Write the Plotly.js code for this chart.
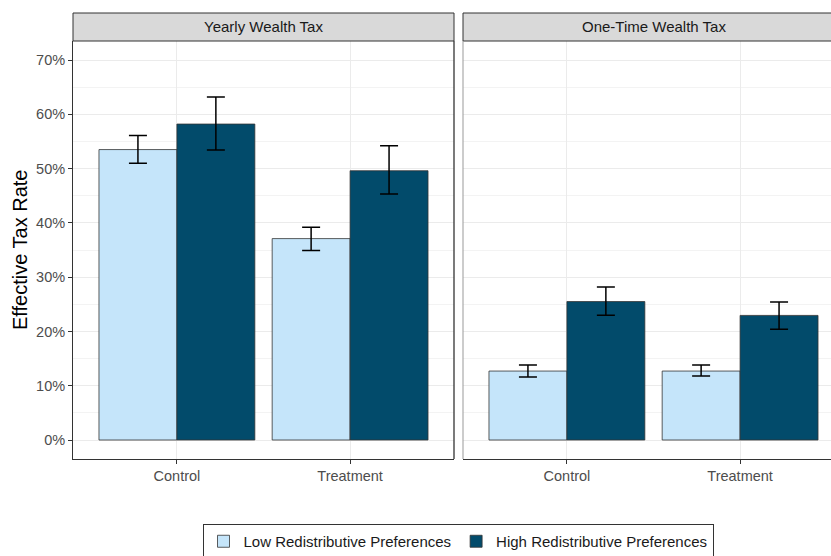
<!DOCTYPE html>
<html><head><meta charset="utf-8">
<script src="https://cdn.plot.ly/plotly-3.0.1.min.js"></script>
<style>html,body{margin:0;padding:0;overflow:hidden;background:#fff;width:831px;height:556px}</style>
</head><body><div id="chart"></div>
<script>
const categories = ["Control", "Treatment"];
const panels = ["Yearly Wealth Tax", "One-Time Wealth Tax"];
const groups = ["Low Redistributive Preferences", "High Redistributive Preferences"];

const yearlyLow = [0.535, 0.371];
const yearlyLowHi = [0.561, 0.392];
const yearlyLowLo = [0.510, 0.349];
const yearlyHigh = [0.582, 0.496];
const yearlyHighHi = [0.632, 0.542];
const yearlyHighLo = [0.534, 0.453];

const oneLow = [0.127, 0.127];
const oneLowHi = [0.138, 0.138];
const oneLowLo = [0.116, 0.118];
const oneHigh = [0.255, 0.2295];
const oneHighHi = [0.282, 0.254];
const oneHighLo = [0.230, 0.204];

const yTicks = [0, 0.1, 0.2, 0.3, 0.4, 0.5, 0.6, 0.7];
const yTickText = ["0%", "10%", "20%", "30%", "40%", "50%", "60%", "70%"];

const colLow = "#C5E5FA", colHigh = "#024B6B";

function bar(x, y, hi, lo, name, color, xa, ya, show) {
  return {
    type: "bar", x: x, y: y, name: name, xaxis: xa, yaxis: ya, showlegend: show,
    legendgroup: name,
    marker: {color: color, line: {color: "#333333", width: 0.8}},
    error_y: {type: "data", symmetric: false,
      array: y.map((v, i) => hi[i] - v), arrayminus: y.map((v, i) => v - lo[i]),
      color: "#000000", thickness: 1.5, width: 9},
    hoverinfo: "skip"
  };
}

const data = [
  bar(categories, yearlyLow, yearlyLowHi, yearlyLowLo, groups[0], colLow, "x", "y", true),
  bar(categories, yearlyHigh, yearlyHighHi, yearlyHighLo, groups[1], colHigh, "x", "y", true),
  bar(categories, oneLow, oneLowHi, oneLowLo, groups[0], colLow, "x2", "y2", false),
  bar(categories, oneHigh, oneHighHi, oneHighLo, groups[1], colHigh, "x2", "y2", false)
];

const W = 850, H = 600, L = 73, R = 6, T = 41, B = 141;
const pw = W - L - R, ph = H - T - B;
const d1 = [0, 381 / pw], d2 = [390 / pw, 1];
const font = "Liberation Sans, Arial, sans-serif";

const xcommon = {
  type: "category", range: [-0.6, 1.6], showline: true, linecolor: "#333333", linewidth: 1,
  ticks: "outside", ticklen: 4, tickcolor: "#333333", tickwidth: 1,
  showgrid: true, gridcolor: "#EBEBEB", gridwidth: 1, zeroline: false,
  tickfont: {family: font, size: 14.5, color: "#4D4D4D"}, fixedrange: true
};
const ycommon = {
  range: [-0.035, 0.735], tickvals: yTicks, ticktext: yTickText,
  showgrid: true, gridcolor: "#EBEBEB", gridwidth: 1, zeroline: false,
  minor: {dtick: 0.05, tick0: 0.05, showgrid: true, gridcolor: "#F3F3F3", gridwidth: 1, ticks: ""},
  tickfont: {family: font, size: 14.5, color: "#4D4D4D"}, fixedrange: true
};

const layout = {
  width: W, height: H,
  margin: {l: L, r: R, t: T, b: B},
  paper_bgcolor: "#ffffff", plot_bgcolor: "#ffffff",
  barmode: "group", bargap: 0.1, bargroupgap: 0,
  font: {family: font},
  xaxis: Object.assign({}, xcommon, {domain: d1, anchor: "y"}),
  xaxis2: Object.assign({}, xcommon, {domain: d2, anchor: "y2"}),
  yaxis: Object.assign({}, ycommon, {domain: [0, 1], anchor: "x", showline: true, linecolor: "#333333", linewidth: 1,
    ticks: "outside", ticklen: 4, tickcolor: "#333333"}),
  yaxis2: Object.assign({}, ycommon, {domain: [0, 1], anchor: "x2", matches: "y", showticklabels: false, ticks: "", showline: false}),
  showlegend: true,
  legend: {orientation: "h", x: (458 - L) / pw, xanchor: "center", y: (T + ph - 524) / ph, yanchor: "top",
    bordercolor: "#333333", borderwidth: 1, bgcolor: "#ffffff",
    font: {family: font, size: 15, color: "#1A1A1A"}, itemwidth: 30, traceorder: "normal"},
  shapes: [
    {type: "rect", xref: "paper", yref: "paper", x0: d1[0], x1: d1[1], y0: 1, y1: 1 + 28 / ph,
      fillcolor: "#D9D9D9", line: {color: "#333333", width: 1}},
    {type: "rect", xref: "paper", yref: "paper", x0: d2[0], x1: d2[1], y0: 1, y1: 1 + 28 / ph,
      fillcolor: "#D9D9D9", line: {color: "#333333", width: 1}},
    {type: "line", xref: "paper", yref: "paper", x0: d1[1], x1: d1[1], y0: 0, y1: 1, line: {color: "#333333", width: 1.3}},
    {type: "line", xref: "paper", yref: "paper", x0: d2[0], x1: d2[0], y0: 0, y1: 1, line: {color: "#999999", width: 1}}
  ],
  annotations: [
    {xref: "paper", yref: "paper", x: (d1[0] + d1[1]) / 2, y: 1 + 14 / ph, text: panels[0], showarrow: false,
      xanchor: "center", yanchor: "middle", font: {family: font, size: 15, color: "#1A1A1A"}},
    {xref: "paper", yref: "paper", x: (d2[0] + (d2[0] + 381 / pw)) / 2, y: 1 + 14 / ph, text: panels[1], showarrow: false,
      xanchor: "center", yanchor: "middle", font: {family: font, size: 15, color: "#1A1A1A"}},
    {xref: "paper", yref: "paper", x: (20 - L) / pw, y: 0.5, text: "Effective Tax Rate", showarrow: false,
      textangle: -90, xanchor: "center", yanchor: "middle", font: {family: font, size: 20, color: "#000000"}}
  ]
};

Plotly.newPlot("chart", data, layout, {displayModeBar: false, staticPlot: true});
</script></body></html>
